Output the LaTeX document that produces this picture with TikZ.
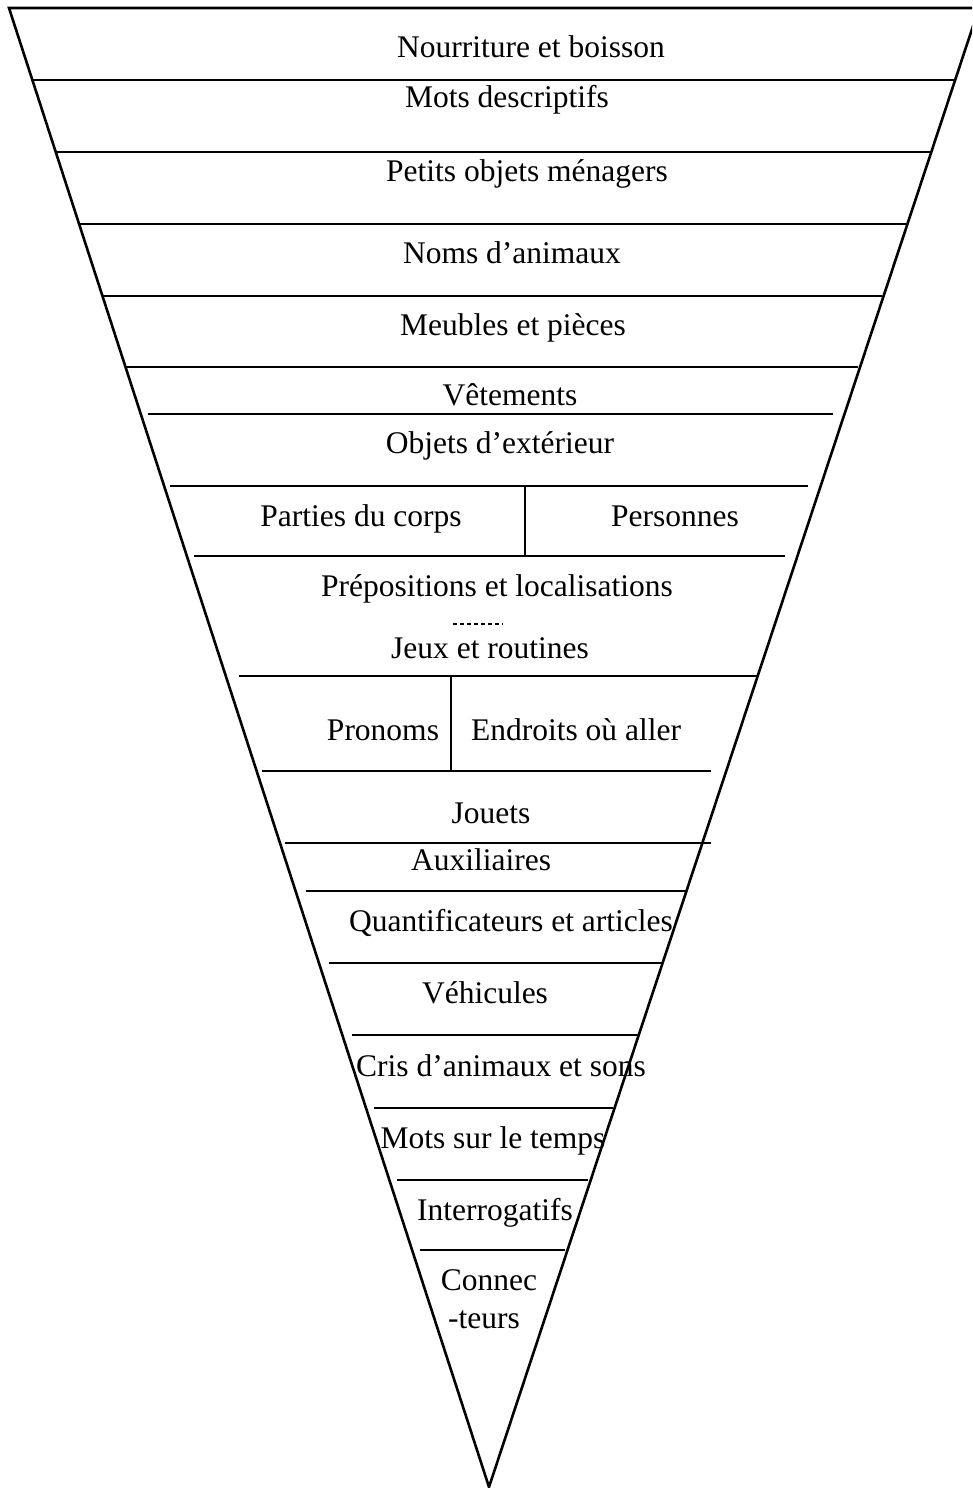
\documentclass[tikz,border=0pt]{standalone}
\usepackage{fontspec}
\setmainfont{Liberation Serif}
\begin{document}
\begin{tikzpicture}[x=1pt,y=-1pt,
  lbl/.style={anchor=base,inner sep=0pt,font=\fontsize{31.5}{36}\selectfont},
  rule/.style={line width=2pt},
  side/.style={line width=2.6pt,line join=miter}]
\useasboundingbox (0,0) rectangle (972,1488);
\clip (0,0) rectangle (972,1488);
% outer inverted triangle
\draw[side] (9,8) -- (979,8) -- (489,1487) -- cycle;
% horizontal rules
\foreach \y/\a/\b in {80/32/954,152/56/930,224/79/906,296/102/882,367/126/858,
  414/148/833,486/170/808,556/194/785,676/239/757,771/262/711,843/285/711,
  891/306/686,963/329/662,1035/352/638,1108/374/613,1180/397/588,1250/420/565}
  \draw[rule] (\a,\y) -- (\b,\y);
% vertical dividers
\draw[rule] (525,486) -- (525,556);
\draw[rule] (451,676) -- (451,771);
% faint dashed mark
\draw[line width=1.2pt,dash pattern=on 4pt off 3pt] (453,624) -- (503,624);
% labels
\node[lbl] (n1) at (531,58) {Nourriture et boisson};
\node[lbl] (n2) at (507,107) {Mots descriptifs};
\node[lbl] (n3) at (527,181) {Petits objets ménagers};
\node[lbl] (n4) at (512,263) {Noms d’animaux};
\node[lbl] (n5) at (513,335) {Meubles et pièces};
\node[lbl] (n6) at (510,405) {Vêtements};
\node[lbl] (n7) at (500,453) {Objets d’extérieur};
\node[lbl] (n8) at (361,526) {Parties du corps};
\node[lbl] (n9) at (675,526) {Personnes};
\node[lbl] (n10) at (497,596) {Prépositions et localisations};
\node[lbl] (n11) at (490,658) {Jeux et routines};
\node[lbl] (n12) at (383,740) {Pronoms};
\node[lbl] (n13) at (576,740) {Endroits où aller};
\node[lbl] (n14) at (491,823) {Jouets};
\node[lbl] (n15) at (481,870) {Auxiliaires};
\node[lbl] (n16) at (511,931) {Quantificateurs et articles};
\node[lbl] (n17) at (485,1003) {Véhicules};
\node[lbl] (n18) at (501,1076) {Cris d’animaux et sons};
\node[lbl] (n19) at (493,1148) {Mots sur le temps};
\node[lbl] (n20) at (495,1220) {Interrogatifs};
\node[lbl] (n21) at (489,1290) {Connec};
\node[lbl] (n22) at (484,1328) {-teurs};
\end{tikzpicture}
\end{document}
